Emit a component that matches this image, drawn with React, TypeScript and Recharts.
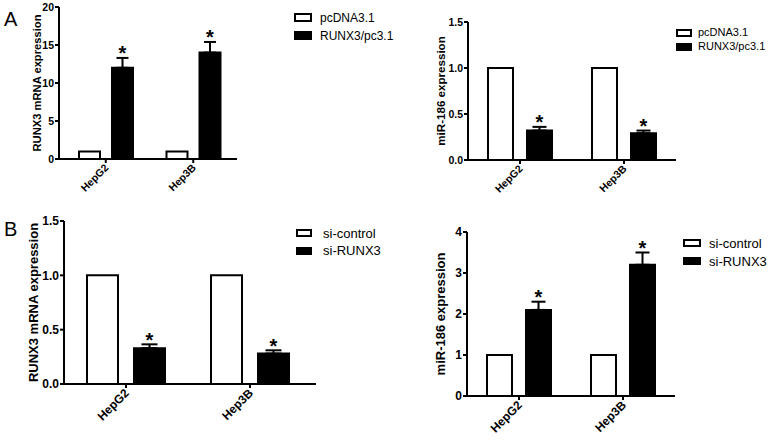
import React from "react"
import { Bar, BarChart, ErrorBar, LabelList, Legend, XAxis, YAxis } from "recharts"

// cell lines on the x axis
const cells = ["HepG2", "Hep3B"]

// A, left: RUNX3 mRNA
const aMrnaCtrl = [1, 1]
const aMrnaRunx = [12.0, 14.0]
const aMrnaErr = [1.3, 1.4]
const aMrnaTicks = [0, 5, 10, 15, 20]

// A, right: miR-186
const aMirCtrl = [1, 1]
const aMirRunx = [0.32, 0.29]
const aMirErr = [0.04, 0.03]

// B, left: RUNX3 mRNA
const bMrnaCtrl = [1, 1]
const bMrnaSi = [0.33, 0.28]
const bMrnaErr = [0.035, 0.03]

// B, right: miR-186
const bMirCtrl = [1, 1]
const bMirSi = [2.1, 3.2]
const bMirErr = [0.2, 0.3]
const bMirTicks = [0, 1, 2, 3, 4]

const smallTicks = [0, 0.5, 1.0, 1.5]

const legendA = ["pcDNA3.1", "RUNX3/pc3.1"]
const legendB = ["si-control", "si-RUNX3"]

const FONT = "'Liberation Sans', Arial, Helvetica, sans-serif"

const rows = (ctrl: number[], treat: number[], err: number[]) =>
  cells.map((c, i) => ({ cell: c, ctrl: ctrl[i], treat: treat[i], err: [0, err[i]] }))

type PanelProps = {
  box: { left: number; top: number; w: number; h: number }
  plot: { x0: number; x1: number; y0: number; y1: number }
  data: { cell: string; ctrl: number; treat: number; err: number[] }[]
  names: string[]
  domain: [number, number]
  ticks: number[]
  decimals: number
  yLabel: string
  yLabelX: number
  labelSize: number
  tickSize: number
  padL: number
  padR: number
  barSize: number
  barGap: number
  capW: number
  starSize: number
  legend: { x: number; y: number; boxW: number; boxH: number; gap: number; pitch: number; size: number }
}

function Panel(p: PanelProps) {
  const yW = 40
  const xH = 40
  const margin = {
    left: p.plot.x0 - p.box.left - yW,
    top: p.plot.y0 - p.box.top,
    right: p.box.left + p.box.w - p.plot.x1,
    bottom: p.box.top + p.box.h - p.plot.y1 - xH,
  }
  const lg = p.legend

  // asterisk sitting just above the error bar cap
  const star = (props: any) => {
    const vb = props.viewBox || props
    const d = p.data[props.index]
    const pxPer = vb.height / d.treat
    const capY = vb.y - d.err[1] * pxPer
    return (
      <text
        x={vb.x + vb.width / 2}
        y={capY + p.starSize * 0.12}
        textAnchor="middle"
        fontFamily={FONT}
        fontWeight="bold"
        fontSize={p.starSize}
        fill="#000"
      >
        *
      </text>
    )
  }

  const xTick = (props: any) => {
    const { x, y, payload } = props
    return (
      <g transform={`translate(${x},${y})`}>
        <text
          x={0}
          y={0}
          dy="0.45em"
          textAnchor="end"
          transform="rotate(-45)"
          fontFamily={FONT}
          fontWeight="bold"
          fontSize={p.tickSize}
          fill="#000"
        >
          {payload.value}
        </text>
      </g>
    )
  }

  return (
    <div style={{ position: "absolute", left: p.box.left, top: p.box.top }}>
      <BarChart
        width={p.box.w}
        height={p.box.h}
        data={p.data}
        margin={margin}
        barSize={p.barSize}
        barGap={p.barGap}
      >
        <XAxis
          dataKey="cell"
          height={xH}
          padding={{ left: p.padL, right: p.padR }}
          axisLine={{ stroke: "#000", strokeWidth: 2 }}
          tickLine={{ stroke: "#000", strokeWidth: 2 }}
          tickSize={4}
          tickMargin={2}
          tick={xTick}
          interval={0}
        />
        <YAxis
          width={yW}
          domain={p.domain}
          ticks={p.ticks}
          interval={0}
          allowDataOverflow
          axisLine={{ stroke: "#000", strokeWidth: 2 }}
          tickLine={{ stroke: "#000", strokeWidth: 2 }}
          tickSize={4}
          tickMargin={1}
          tick={{ fontFamily: FONT, fontWeight: "bold", fontSize: p.tickSize, fill: "#000" }}
          tickFormatter={(v: number) => v.toFixed(p.decimals)}
          label={{
            content: (lp: any) => {
              const vb = lp.viewBox
              const cy = vb.y + vb.height / 2
              const cx = p.yLabelX - p.box.left
              return (
                <text
                  x={cx}
                  y={cy}
                  transform={`rotate(-90, ${cx}, ${cy})`}
                  textAnchor="middle"
                  dominantBaseline="central"
                  fontFamily={FONT}
                  fontWeight="bold"
                  fontSize={p.labelSize}
                  fill="#000"
                >
                  {p.yLabel}
                </text>
              )
            },
          }}
        />
        <Legend
          layout="horizontal"
          verticalAlign="middle"
          align="center"
          wrapperStyle={{ left: lg.x - p.box.left, top: lg.y - p.box.top - lg.pitch / 2, width: "auto" }}
          content={(lp: any) => {
            const items = ["ctrl", "treat"].map((k, i) => {
              const e = (lp.payload || []).find((q: any) => q.dataKey === k)
              return e ? e.value : p.names[i]
            })
            return (
              <div style={{ fontFamily: FONT, fontSize: lg.size, color: "#000" }}>
                {items.map((name: string, i: number) => (
                  <div key={i} style={{ display: "flex", alignItems: "center", height: lg.pitch }}>
                    <span
                      style={{
                        display: "inline-block",
                        width: lg.boxW,
                        height: lg.boxH,
                        boxSizing: "border-box",
                        border: "2px solid #000",
                        background: i === 0 ? "#fff" : "#000",
                      }}
                    />
                    <span style={{ marginLeft: lg.gap, lineHeight: 1 }}>{name}</span>
                  </div>
                ))}
              </div>
            )
          }}
        />
        <Bar dataKey="ctrl" name={p.names[0]} fill="#fff" stroke="#000" strokeWidth={2} isAnimationActive={false} />
        <Bar dataKey="treat" name={p.names[1]} fill="#000" stroke="#000" strokeWidth={2} isAnimationActive={false}>
          <ErrorBar dataKey="err" direction="y" width={p.capW} stroke="#000" strokeWidth={2} />
          <LabelList dataKey="treat" content={star} />
        </Bar>
      </BarChart>
    </div>
  )
}

const panelLetter = (t: string, left: number, top: number) => (
  <div
    style={{
      position: "absolute",
      left,
      top,
      fontFamily: FONT,
      fontSize: 20,
      lineHeight: 1,
      color: "#000",
    }}
  >
    {t}
  </div>
)

export default function App() {
  return (
    <div
      style={{
        position: "absolute",
        left: 0,
        top: 0,
        width: 772,
        height: 441,
        background: "#fff",
        overflow: "hidden",
      }}
    >
      {panelLetter("A", 4, 9)}
      {panelLetter("B", 4, 219)}
      <Panel
        box={{ left: 0, top: 0, w: 386, h: 215 }}
        plot={{ x0: 59, x1: 237, y0: 7, y1: 159 }}
        data={rows(aMrnaCtrl, aMrnaRunx, aMrnaErr)}
        names={legendA}
        domain={[0, 20]}
        ticks={aMrnaTicks}
        decimals={0}
        yLabel="RUNX3 mRNA expression"
        yLabelX={37}
        labelSize={11.2}
        tickSize={10.5}
        padL={3}
        padR={0}
        barSize={21}
        barGap={12}
        capW={6}
        starSize={20}
        legend={{ x: 294, y: 17.8, boxW: 18, boxH: 9, gap: 8, pitch: 18, size: 12 }}
      />
      <Panel
        box={{ left: 386, top: 0, w: 386, h: 215 }}
        plot={{ x0: 468, x1: 676, y0: 22, y1: 160 }}
        data={rows(aMirCtrl, aMirRunx, aMirErr)}
        names={legendA}
        domain={[0, 1.5]}
        ticks={smallTicks}
        decimals={1}
        yLabel="miR-186 expression"
        yLabelX={440}
        labelSize={11.6}
        tickSize={10.5}
        padL={0}
        padR={0}
        barSize={25}
        barGap={14}
        capW={7}
        starSize={20}
        legend={{ x: 676, y: 32.7, boxW: 16, boxH: 8, gap: 6, pitch: 14.3, size: 11 }}
      />
      <Panel
        box={{ left: 0, top: 215, w: 386, h: 226 }}
        plot={{ x0: 64, x1: 316, y0: 221, y1: 384 }}
        data={rows(bMrnaCtrl, bMrnaSi, bMrnaErr)}
        names={legendB}
        domain={[0, 1.5]}
        ticks={smallTicks}
        decimals={1}
        yLabel="RUNX3 mRNA expression"
        yLabelX={33}
        labelSize={13}
        tickSize={12}
        padL={0}
        padR={4}
        barSize={31}
        barGap={16}
        capW={8}
        starSize={20}
        legend={{ x: 296, y: 233, boxW: 16, boxH: 8, gap: 11, pitch: 17.5, size: 13 }}
      />
      <Panel
        box={{ left: 386, top: 215, w: 386, h: 226 }}
        plot={{ x0: 467, x1: 675, y0: 232, y1: 396 }}
        data={rows(bMirCtrl, bMirSi, bMirErr)}
        names={legendB}
        domain={[0, 4]}
        ticks={bMirTicks}
        decimals={0}
        yLabel="miR-186 expression"
        yLabelX={440}
        labelSize={13}
        tickSize={12}
        padL={0}
        padR={0}
        barSize={25}
        barGap={14}
        capW={7}
        starSize={20}
        legend={{ x: 683, y: 243, boxW: 18, boxH: 8, gap: 8, pitch: 18, size: 13 }}
      />
    </div>
  )
}
